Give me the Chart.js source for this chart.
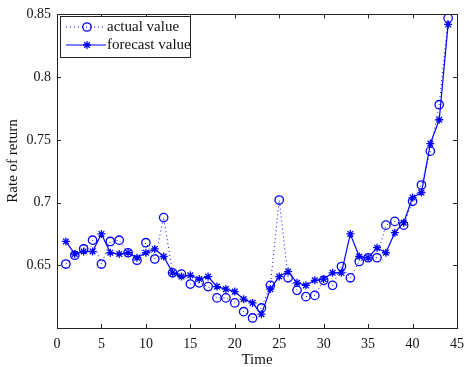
<!DOCTYPE html>
<html lang="en">
  <head>
    <meta charset="UTF-8" />
    <title>Rate of return</title>
    <style>
      body { margin: 0; background: #fff; }
      #chart { display: block; }
    </style>
  </head>
  <body>
    <canvas id="chart" width="472" height="367"></canvas>

    <script src="https://cdn.jsdelivr.net/npm/chart.js"></script>
    <script>
      // time steps
      const times = [1, 2, 3, 4, 5, 6, 7, 8, 9, 10, 11, 12, 13, 14, 15, 16, 17, 18, 19, 20, 21, 22,
        23, 24, 25, 26, 27, 28, 29, 30, 31, 32, 33, 34, 35, 36, 37, 38, 39, 40, 41, 42, 43, 44];

      // actual value (circles, dotted)
      const actualValue = [0.651, 0.658, 0.663, 0.670, 0.651, 0.669, 0.670, 0.660, 0.654, 0.668, 0.655,
        0.688, 0.644, 0.643, 0.635, 0.636, 0.633, 0.624, 0.624, 0.620, 0.613, 0.608, 0.616, 0.634,
        0.702, 0.640, 0.630, 0.625, 0.626, 0.638, 0.634, 0.649, 0.640, 0.653, 0.656, 0.656, 0.682,
        0.685, 0.682, 0.701, 0.714, 0.741, 0.778, 0.847];

      // forecast value (stars, solid)
      const forecastValue = [0.669, 0.659, 0.661, 0.661, 0.675, 0.660, 0.659, 0.660, 0.656, 0.660, 0.663,
        0.657, 0.644, 0.641, 0.642, 0.639, 0.641, 0.633, 0.631, 0.629, 0.623, 0.620, 0.611, 0.631,
        0.641, 0.645, 0.636, 0.634, 0.638, 0.639, 0.644, 0.644, 0.675, 0.657, 0.656, 0.664, 0.660,
        0.676, 0.684, 0.704, 0.708, 0.747, 0.766, 0.842];

      const xTicks = [0, 5, 10, 15, 20, 25, 30, 35, 40, 45];
      const yTicks = [0.65, 0.7, 0.75, 0.8, 0.85];

      const BLUE = "#0000ff";
      const SERIF = "'Liberation Serif', 'Times New Roman', serif";

      // 内向きの目盛り・枠線・凡例・縦軸タイトル（MATLAB風）
      const boxPlugin = {
        id: "box",
        afterDraw(chart) {
          const { ctx, chartArea: a, scales } = chart;
          ctx.save();
          ctx.strokeStyle = "#222";
          ctx.lineWidth = 1;
          ctx.strokeRect(Math.round(a.left) + 0.5, Math.round(a.top) + 0.5,
            Math.round(a.right - a.left), Math.round(a.bottom - a.top));
          ctx.beginPath();
          const len = 4;
          scales.x.ticks.forEach((t) => {
            const px = Math.round(scales.x.getPixelForValue(t.value)) + 0.5;
            ctx.moveTo(px, a.bottom); ctx.lineTo(px, a.bottom - len);
            ctx.moveTo(px, a.top); ctx.lineTo(px, a.top + len);
          });
          scales.y.ticks.forEach((t) => {
            const py = Math.round(scales.y.getPixelForValue(t.value)) + 0.5;
            ctx.moveTo(a.left, py); ctx.lineTo(a.left + len, py);
            ctx.moveTo(a.right, py); ctx.lineTo(a.right - len, py);
          });
          ctx.stroke();

          // y title
          ctx.save();
          ctx.translate(13, 161);
          ctx.rotate(-Math.PI / 2);
          ctx.fillStyle = "#111";
          ctx.font = "15px " + SERIF;
          ctx.textAlign = "center";
          ctx.textBaseline = "middle";
          ctx.fillText("Rate of return", 0, 0);
          ctx.restore();

          // legend box
          const lx = 60, ly = 16, lw = 130, lh = 41;
          ctx.fillStyle = "#fff";
          ctx.fillRect(lx, ly, lw, lh);
          ctx.strokeStyle = "#222";
          ctx.strokeRect(lx + 0.5, ly + 0.5, lw, lh);
          chart.data.datasets.forEach((ds, i) => {
            const y = ly + 11 + i * 18;
            ctx.strokeStyle = ds.borderColor;
            ctx.lineWidth = ds.borderWidth;
            ctx.setLineDash(ds.borderDash || []);
            ctx.beginPath();
            ctx.moveTo(66, y); ctx.lineTo(106, y);
            ctx.stroke();
            ctx.setLineDash([]);
            ctx.strokeStyle = ds.pointBorderColor;
            ctx.fillStyle = ds.pointBackgroundColor;
            ctx.lineWidth = ds.pointBorderWidth;
            Chart.helpers.drawPoint(ctx, {
              pointStyle: ds.pointStyle,
              radius: ds.pointRadius,
              borderWidth: ds.pointBorderWidth
            }, 87, y);
            ctx.fillStyle = "#111";
            ctx.font = "15px " + SERIF;
            ctx.textBaseline = "middle";
            ctx.fillText(ds.label, 107, y);
          });
          ctx.restore();
        }
      };

      const ctx = document.getElementById("chart").getContext("2d");
      new Chart(ctx, {
        type: "line",
        data: {
          datasets: [
            {
              label: "actual value",
              data: times.map((t, i) => ({ x: t, y: actualValue[i] })),
              borderColor: BLUE,
              borderWidth: 1,
              borderDash: [1, 3],
              pointStyle: "circle",
              pointRadius: 4.2,
              pointBorderWidth: 1.3,
              pointBorderColor: BLUE,
              pointBackgroundColor: "rgba(0,0,0,0)",
              tension: 0
            },
            {
              label: "forecast value",
              data: times.map((t, i) => ({ x: t, y: forecastValue[i] })),
              borderColor: BLUE,
              borderWidth: 1.2,
              pointStyle: "star",
              pointRadius: 4,
              pointBorderWidth: 1.3,
              pointBorderColor: BLUE,
              pointBackgroundColor: BLUE,
              tension: 0
            }
          ]
        },
        options: {
          responsive: false,
          animation: false,
          layout: { padding: { top: 10, right: 10, left: 0, bottom: 0 } },
          plugins: {
            legend: { display: false },
            tooltip: { enabled: false }
          },
          scales: {
            x: {
              type: "linear",
              min: 0,
              max: 45,
              afterBuildTicks: (s) => { s.ticks = xTicks.map((v) => ({ value: v })); },
              afterFit: (s) => { s.height = 39; },
              grid: { display: false, drawTicks: false },
              border: { display: false },
              ticks: {
                color: "#111",
                padding: 8,
                font: { family: SERIF, size: 14 }
              },
              title: {
                display: true,
                text: "Time",
                color: "#111",
                padding: { top: 0, bottom: -2 },
                font: { family: SERIF, size: 15 }
              }
            },
            y: {
              min: 0.6,
              max: 0.85,
              afterBuildTicks: (s) => { s.ticks = yTicks.map((v) => ({ value: v })); },
              afterFit: (s) => { s.width = 57; },
              grid: { display: false, drawTicks: false },
              border: { display: false },
              ticks: {
                color: "#111",
                padding: 6,
                font: { family: SERIF, size: 14 },
                callback: (v) => String(+v.toFixed(2))
              }
            }
          }
        },
        plugins: [boxPlugin]
      });
    </script>
  </body>
</html>
